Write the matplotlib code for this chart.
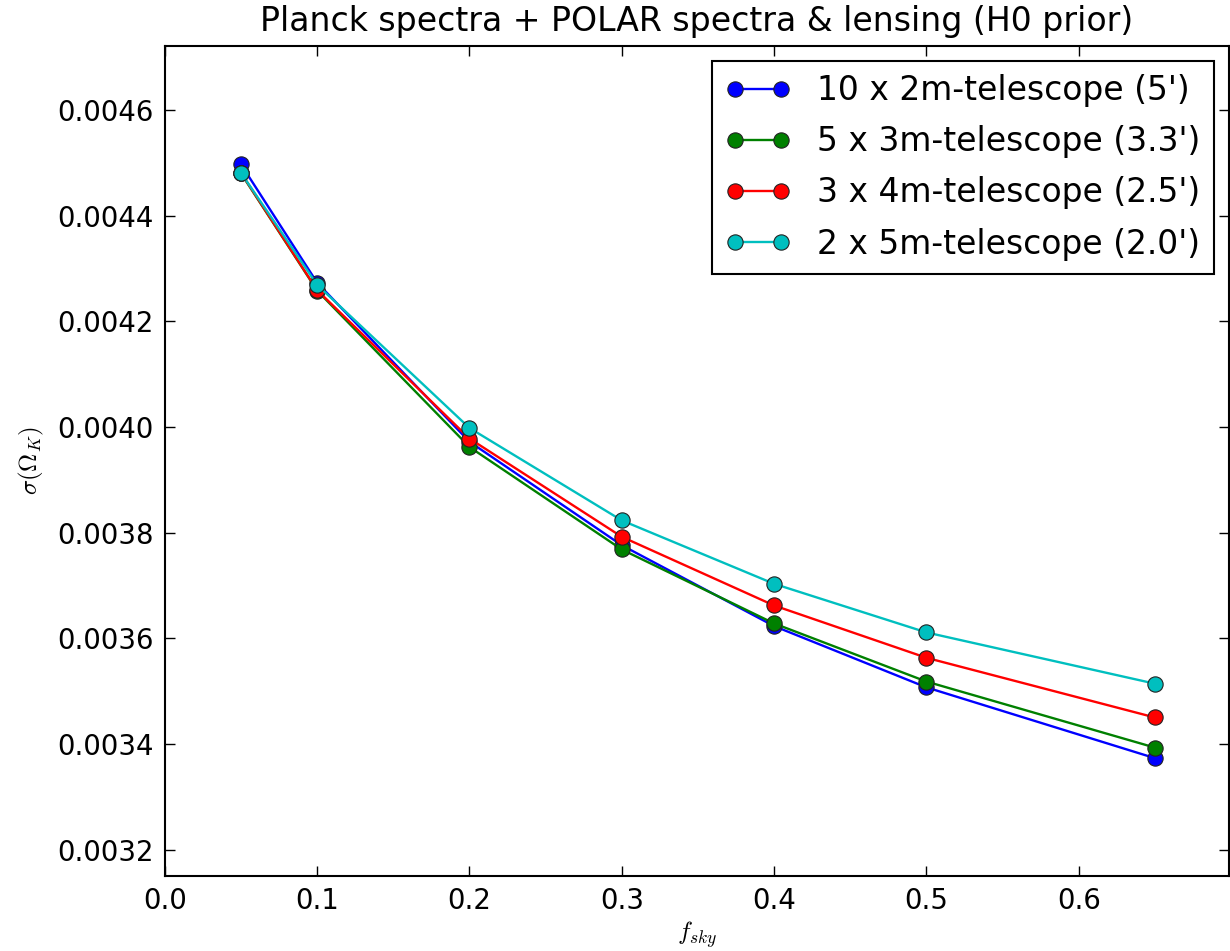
import matplotlib
matplotlib.use("Agg")
import matplotlib.pyplot as plt

plt.rcParams['mathtext.fontset'] = 'cm'
plt.rcParams['font.family'] = ['DejaVu Sans']

fsky = [0.05, 0.1, 0.2, 0.3, 0.4, 0.5, 0.65]
labels = ["10 x 2m-telescope (5')", "5 x 3m-telescope (3.3')",
          "3 x 4m-telescope (2.5')", "2 x 5m-telescope (2.0')"]
tel_10x2m = [0.004497, 0.004273, 0.003972, 0.003776, 0.003623, 0.003507, 0.003373]
tel_5x3m = [0.004480, 0.004258, 0.003962, 0.003768, 0.003628, 0.003518, 0.003393]
tel_3x4m = [0.004481, 0.004259, 0.003978, 0.003792, 0.003662, 0.003563, 0.003450]
tel_2x5m = [0.004481, 0.004269, 0.003998, 0.003823, 0.003703, 0.003611, 0.003514]
series = [tel_10x2m, tel_5x3m, tel_3x4m, tel_2x5m]
colors = ['b', 'g', 'r', 'c']

fig = plt.figure(figsize=(12.3, 9.51), dpi=100)
ax = fig.add_axes([0.134, 0.0789, 0.865, 0.8727])

for ys, lab, c in zip(series, labels, colors):
    ax.plot(fsky, ys, '-o', color=c, label=lab, lw=1.7, markersize=11,
            markeredgecolor='#222222', markeredgewidth=0.8)

ax.set_xlim(0, 0.6985)
ax.set_ylim(0.00315, 0.004721)
ax.set_xticks([0.0, 0.1, 0.2, 0.3, 0.4, 0.5, 0.6])
ax.set_yticks([0.0032, 0.0034, 0.0036, 0.0038, 0.0040, 0.0042, 0.0044, 0.0046])
ax.set_yticklabels(['0.0032', '0.0034', '0.0036', '0.0038', '0.0040', '0.0042', '0.0044', '0.0046'])
ax.set_xticklabels(['0.0', '0.1', '0.2', '0.3', '0.4', '0.5', '0.6'])
ax.tick_params(direction='in', length=7, width=1, top=True, right=True,
               labelsize=19.8, pad=8)
for s in ax.spines.values():
    s.set_linewidth(1.5)

ax.set_title("Planck spectra + POLAR spectra & lensing (H0 prior)", fontsize=23.9, pad=11)
ax.set_xlabel(r"$f_{sky}$", fontsize=18, labelpad=3)
ax.set_ylabel(r"$\sigma(\Omega_K)$", fontsize=18, labelpad=8)

leg = ax.legend(loc='upper right', numpoints=2, fontsize=23.8, fancybox=False,
                framealpha=1, edgecolor='black', borderaxespad=0.45,
                handlelength=2.0, labelspacing=0.55, borderpad=0.4)
leg.get_frame().set_linewidth(1.5)

fig.savefig("out.png", dpi=100)
